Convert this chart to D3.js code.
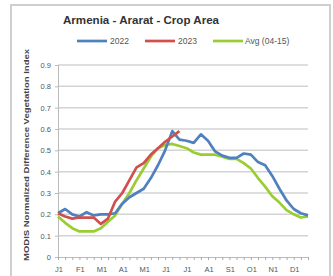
<!DOCTYPE html>
<html><head><meta charset="utf-8">
<script src="https://cdn.jsdelivr.net/npm/d3@7"></script>
<style>body{margin:0;background:#fff}svg{display:block;font-family:"Liberation Sans",Arial,sans-serif}</style>
</head><body>
<svg id="c" width="333" height="276"></svg>
<script>
const title = "Armenia - Ararat - Crop Area";
const yTitle = "MODIS Normalized Difference Vegetation Index";
const monthLabels = ["J1","F1","M1","A1","M1","J1","J1","A1","S1","O1","N1","D1"];
const yTicks = [0,0.1,0.2,0.3,0.4,0.5,0.6,0.7,0.8,0.9];
const seriesNames = ["2022","2023","Avg (04-15)"];
const seriesColors = ["#4f81bd","#d0504d","#9acd32"];
const v2022 = [0.205,0.225,0.20,0.19,0.21,0.195,0.20,0.20,0.205,0.25,0.28,0.30,0.32,0.37,0.43,0.50,0.59,0.55,0.545,0.535,0.575,0.545,0.495,0.475,0.465,0.465,0.485,0.48,0.445,0.43,0.38,0.32,0.265,0.225,0.205,0.195];
const v2023 = [0.205,0.19,0.18,0.185,0.185,0.185,0.155,0.18,0.26,0.30,0.36,0.42,0.44,0.48,0.51,0.54,0.565,0.59];
const vAvg = [0.19,0.16,0.135,0.12,0.12,0.12,0.135,0.165,0.195,0.25,0.30,0.36,0.415,0.47,0.51,0.525,0.53,0.52,0.51,0.49,0.48,0.48,0.48,0.47,0.46,0.46,0.44,0.415,0.37,0.33,0.285,0.255,0.22,0.2,0.185,0.19];
const series = [v2022, v2023, vAvg];

const svg = d3.select("#c");
// frame
svg.append("path").attr("d","M11,276 V5 H330 V276").attr("fill","none").attr("stroke","#cfcfcf").attr("stroke-width",2);

const x = d3.scaleLinear().domain([0,35]).range([58,308]);
const y = d3.scaleLinear().domain([0,0.9]).range([257,65]);

// gridlines
svg.append("g").selectAll("line").data(yTicks.filter(d=>d>0)).join("line")
  .attr("x1",58).attr("x2",308).attr("y1",d=>y(d)).attr("y2",d=>y(d))
  .attr("stroke","#d3d3d3").attr("stroke-width",1.5);

// y axis
const ya = svg.append("g").attr("transform","translate(58,0)")
  .call(d3.axisLeft(y).tickValues(yTicks).tickSize(3).tickPadding(4).tickFormat(d=>d===0?"0":d3.format(".1f")(d)));
ya.select(".domain").attr("stroke","#bbb");
ya.selectAll(".tick line").attr("stroke","#bbb");
ya.selectAll("text").attr("font-size",7.5).attr("fill","#555").attr("font-family","Liberation Sans, Arial, sans-serif");

// x axis
const xa = svg.append("g").attr("transform","translate(0,257)")
  .call(d3.axisBottom(x).tickValues(d3.range(36)).tickSize(3).tickFormat(""));
xa.select(".domain").attr("stroke","#bbb");
xa.selectAll(".tick line").attr("stroke","#aaa");
svg.append("g").selectAll("text").data(monthLabels).join("text")
  .attr("x",(d,i)=>x(i*3)+1).attr("y",272).attr("text-anchor","middle")
  .attr("font-size",7.5).attr("fill","#555").text(d=>d);

// lines
const line = d3.line().x((d,i)=>x(i)).y(d=>y(d));
svg.append("g").selectAll("path").data([2,0,1]).join("path")
  .attr("d",k=>line(series[k])).attr("fill","none")
  .attr("stroke",k=>seriesColors[k]).attr("stroke-width",2.7).attr("stroke-linejoin","round");

// title
svg.append("text").attr("x",141).attr("y",24).attr("text-anchor","middle")
  .attr("font-size",10.5).attr("font-weight","bold").attr("fill","#333")
  .attr("textLength",156).attr("lengthAdjust","spacingAndGlyphs").text(title);

// legend
const lg = [[77,110],[145,178],[213,245]];
seriesNames.forEach((n,k)=>{
  svg.append("line").attr("x1",lg[k][0]).attr("x2",lg[k][0]+30).attr("y1",41).attr("y2",41)
    .attr("stroke",seriesColors[k]).attr("stroke-width",2.7);
  svg.append("text").attr("x",lg[k][1]).attr("y",44).attr("font-size",8.5).attr("fill","#555").text(n);
});

// y title
svg.append("text").attr("transform","translate(29,155) rotate(-90)").attr("text-anchor","middle")
  .attr("font-size",7.5).attr("font-weight","bold").attr("fill","#444")
  .attr("textLength",212).attr("lengthAdjust","spacingAndGlyphs").text(yTitle);
</script>
</body></html>
